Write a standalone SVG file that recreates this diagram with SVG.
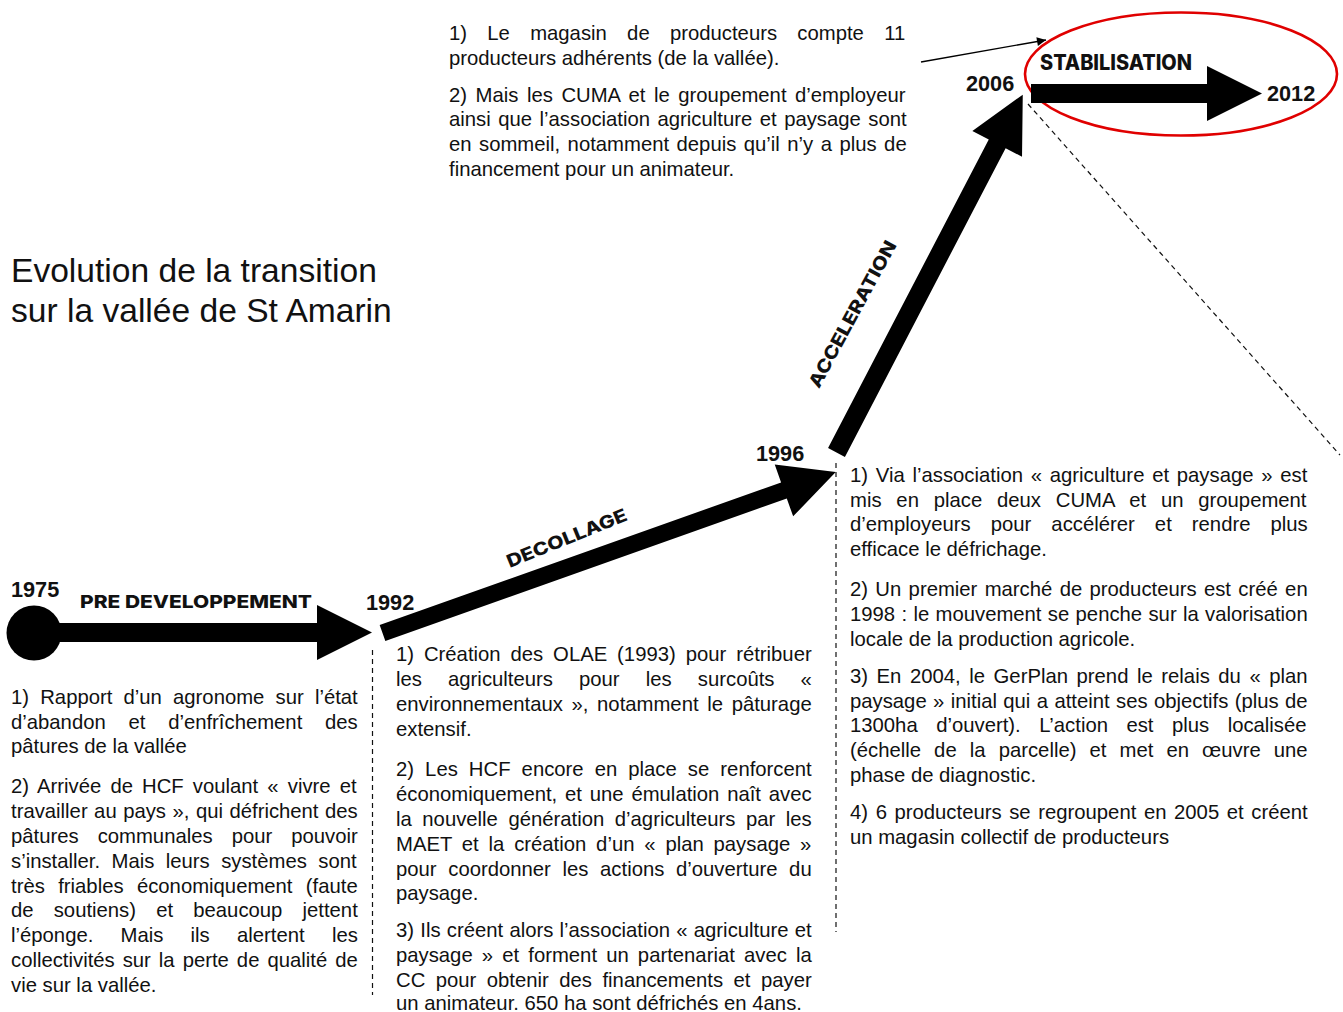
<svg xmlns="http://www.w3.org/2000/svg" width="1343" height="1012" viewBox="0 0 1343 1012">
<defs>
<style>
.t{font-family:"Liberation Sans",Arial,sans-serif;font-size:20.3px;fill:#111}
.ttl{font-family:"Liberation Sans",Arial,sans-serif;font-size:33.6px;fill:#111}
.yr{font-family:"Liberation Sans",Arial,sans-serif;font-size:21.7px;font-weight:bold;fill:#111}
.ph{font-family:Inter,"Noto Sans",sans-serif;font-weight:800;fill:#111}
.arr{fill:#000}
.dash{stroke:#111;stroke-width:1.2;stroke-dasharray:5,4;fill:none}
</style>
<marker id="ah" viewBox="0 0 10 10" refX="10" refY="5" markerWidth="12" markerHeight="9" markerUnits="userSpaceOnUse" orient="auto">
<path d="M0,0 L10,5 L0,10 z" fill="#000"/>
</marker>
</defs>
<rect width="1343" height="1012" fill="#fff"/>

<g id="title">
<text class="ttl" x="11" y="282">Evolution de la transition</text>
<text class="ttl" x="11" y="322">sur la vallée de St Amarin</text>
</g>

<g id="connectors">
<line class="dash" x1="372.5" y1="650" x2="372.5" y2="995"/>
<line class="dash" x1="836" y1="463" x2="836" y2="932"/>
<line class="dash" x1="1028" y1="104" x2="1340" y2="455"/>
<line x1="921" y1="62" x2="1046" y2="40" stroke="#000" stroke-width="1.3" marker-end="url(#ah)"/>
</g>

<g id="phase-predev">
<circle class="arr" cx="34" cy="633" r="27.5"/>
<polygon class="arr" points="50,623 317,623 317,605 372,632.5 317,660 317,642 50,642"/>
<text class="yr" x="11" y="597">1975</text>
<text class="ph" x="80" y="608" font-size="18" textLength="232" lengthAdjust="spacingAndGlyphs">PRE DEVELOPPEMENT</text>
</g>

<g id="phase-decollage">
<polygon class="arr" transform="translate(382.5,633) rotate(-19.55)" points="0,-8.5 426,-8.5 426,-27.5 481,0 426,27.5 426,8.5 0,8.5"/>
<text class="yr" x="366" y="610">1992</text>
<text class="ph" transform="translate(569,544) rotate(-22)" x="0" y="0" text-anchor="middle" font-size="18" textLength="128" lengthAdjust="spacingAndGlyphs">DECOLLAGE</text>
</g>

<g id="phase-acceleration">
<polygon class="arr" transform="translate(836.5,452.5) rotate(-62.5)" points="0,-9.5 348,-9.5 348,-28 403.4,0 348,28 348,9.5 0,9.5"/>
<text class="yr" x="756" y="461">1996</text>
<text class="ph" transform="translate(858,317) rotate(-61.6)" x="0" y="0" text-anchor="middle" font-size="18" textLength="164" lengthAdjust="spacingAndGlyphs">ACCELERATION</text>
</g>

<g id="phase-stabilisation">
<ellipse cx="1181" cy="74" rx="156" ry="61.5" fill="none" stroke="#e00000" stroke-width="2.6"/>
<polygon class="arr" points="1031,84 1207,84 1207,66 1262,93.5 1207,121 1207,103 1031,103"/>
<text class="yr" x="966" y="91">2006</text>
<text class="yr" x="1267" y="101">2012</text>
<text class="ph" x="1040" y="70" font-size="21" textLength="152" lengthAdjust="spacingAndGlyphs">STABILISATION</text>
</g>

<g id="text-predev">
<text class="t" x="11" y="704" word-spacing="5.54">1) Rapport d’un agronome sur l’état</text>
<text class="t" x="11" y="729" word-spacing="17.1">d’abandon et d’enfrîchement des</text>
<text class="t" x="11" y="753">pâtures de la vallée</text>
<text class="t" x="11" y="793" word-spacing="3.48">2) Arrivée de HCF voulant « vivre et</text>
<text class="t" x="11" y="818" word-spacing="0.85">travailler au pays », qui défrichent des</text>
<text class="t" x="11" y="843" word-spacing="13.37">pâtures communales pour pouvoir</text>
<text class="t" x="11" y="868" word-spacing="5.82">s’installer. Mais leurs systèmes sont</text>
<text class="t" x="11" y="893" word-spacing="7.73">très friables économiquement (faute</text>
<text class="t" x="11" y="917" word-spacing="14.53">de soutiens) et beaucoup jettent</text>
<text class="t" x="11" y="942" word-spacing="21.6">l’éponge. Mais ils alertent les</text>
<text class="t" x="11" y="967" word-spacing="2.36">collectivités sur la perte de qualité de</text>
<text class="t" x="11" y="992">vie sur la vallée.</text>
</g>

<g id="text-decollage">
<text class="t" x="396" y="661" word-spacing="4.27">1) Création des OLAE (1993) pour rétribuer</text>
<text class="t" x="396" y="686" word-spacing="20.5">les agriculteurs pour les surcoûts «</text>
<text class="t" x="396" y="711" word-spacing="3.02">environnementaux », notamment le pâturage</text>
<text class="t" x="396" y="736">extensif.</text>
<text class="t" x="396" y="776" word-spacing="5.43">2) Les HCF encore en place se renforcent</text>
<text class="t" x="396" y="801" word-spacing="2.18">économiquement, et une émulation naît avec</text>
<text class="t" x="396" y="826" word-spacing="4.9">la nouvelle génération d’agriculteurs par les</text>
<text class="t" x="396" y="851" word-spacing="4.19">MAET et la création d’un « plan paysage »</text>
<text class="t" x="396" y="876" word-spacing="6.02">pour coordonner les actions d’ouverture du</text>
<text class="t" x="396" y="900">paysage.</text>
<text class="t" x="396" y="937" word-spacing="0.6">3) Ils créent alors l’association « agriculture et</text>
<text class="t" x="396" y="962" word-spacing="3.5">paysage » et forment un partenariat avec la</text>
<text class="t" x="396" y="987" word-spacing="4.83">CC pour obtenir des financements et payer</text>
<text class="t" x="396" y="1010">un animateur. 650 ha sont défrichés en 4ans.</text>
</g>

<g id="text-acceleration">
<text class="t" x="850" y="482" word-spacing="2.11">1) Via l’association « agriculture et paysage » est</text>
<text class="t" x="850" y="507" word-spacing="9.17">mis en place deux CUMA et un groupement</text>
<text class="t" x="850" y="531" word-spacing="14.44">d’employeurs pour accélérer et rendre plus</text>
<text class="t" x="850" y="556">efficace le défrichage.</text>
<text class="t" x="850" y="596" word-spacing="1.69">2) Un premier marché de producteurs est créé en</text>
<text class="t" x="850" y="621" word-spacing="0.7">1998 : le mouvement se penche sur la valorisation</text>
<text class="t" x="850" y="646">locale de la production agricole.</text>
<text class="t" x="850" y="683" word-spacing="2.92">3) En 2004, le GerPlan prend le relais du « plan</text>
<text class="t" x="850" y="708" word-spacing="0.74">paysage » initial qui a atteint ses objectifs (plus de</text>
<text class="t" x="850" y="732" word-spacing="12.84">1300ha d’ouvert). L’action est plus localisée</text>
<text class="t" x="850" y="757" word-spacing="7.46">(échelle de la parcelle) et met en œuvre une</text>
<text class="t" x="850" y="782">phase de diagnostic.</text>
<text class="t" x="850" y="819" word-spacing="1.96">4) 6 producteurs se regroupent en 2005 et créent</text>
<text class="t" x="850" y="844">un magasin collectif de producteurs</text>
</g>

<g id="text-stabilisation">
<text class="t" x="449" y="40" word-spacing="14.65">1) Le magasin de producteurs compte 11</text>
<text class="t" x="449" y="65">producteurs adhérents (de la vallée).</text>
<text class="t" x="449" y="102" word-spacing="2.9">2) Mais les CUMA et le groupement d’employeur</text>
<text class="t" x="449" y="126" word-spacing="1.87">ainsi que l’association agriculture et paysage sont</text>
<text class="t" x="449" y="151" word-spacing="1.83">en sommeil, notamment depuis qu’il n’y a plus de</text>
<text class="t" x="449" y="176">financement pour un animateur.</text>
</g>
</svg>
